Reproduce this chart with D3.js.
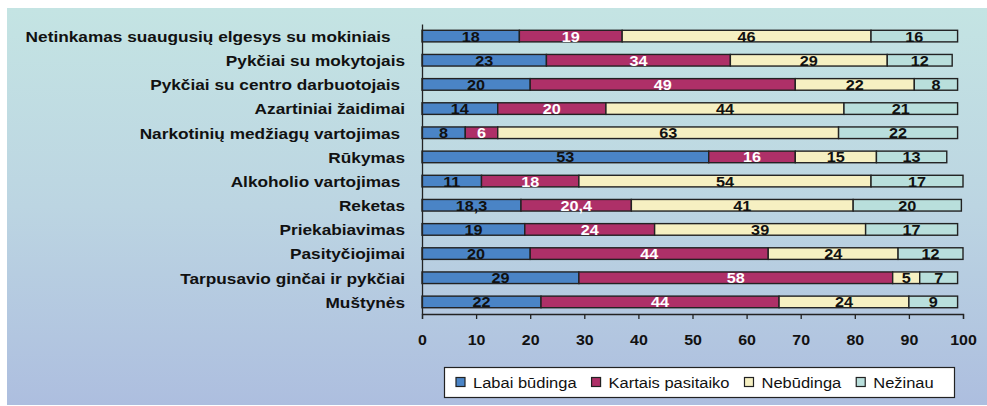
<!DOCTYPE html>
<html>
<head>
<meta charset="utf-8">
<script src="https://cdn.jsdelivr.net/npm/d3@7"></script>
<style>
  body { margin: 0; background: #fff; }
  svg { display: block; font-family: "Liberation Sans", Arial, sans-serif; }
  text { white-space: pre; }
</style>
</head>
<body>
<svg id="chart" width="987" height="406"></svg>
<script>
// categories, top to bottom (trailing spaces kept as in the original)
const categories = [
  'Netinkamas suaugusių elgesys su mokiniais   ',
  'Pykčiai su mokytojais',
  'Pykčiai su centro darbuotojais ',
  'Azartiniai žaidimai',
  'Narkotinių medžiagų vartojimas ',
  'Rūkymas',
  'Alkoholio vartojimas ',
  'Reketas',
  'Priekabiavimas',
  'Pasityčiojimai',
  'Tarpusavio ginčai ir pykčiai',
  'Muštynės'
];
const seriesNames = ['Labai būdinga', 'Kartais pasitaiko', 'Nebūdinga', 'Nežinau'];
const labaiBudinga     = [18, 23, 20, 14, 8, 53, 11, 18.3, 19, 20, 29, 22];
const kartaisPasitaiko = [19, 34, 49, 20, 6, 16, 18, 20.4, 24, 44, 58, 44];
const nebudinga        = [46, 29, 22, 44, 63, 15, 54, 41, 39, 24, 5, 24];
const nezinau          = [16, 12, 8, 21, 22, 13, 17, 20, 17, 12, 7, 9];
const xTicks = [0, 10, 20, 30, 40, 50, 60, 70, 80, 90, 100];

const colors = ['#4a84c6', '#ae3068', '#f6f0c2', '#b9dfdc'];
const labelColors = ['#111', '#fff', '#111', '#111'];
const FONT = '"Liberation Sans", Arial, sans-serif';

const svg = d3.select('#chart');

// background panel with soft vertical gradient
const defs = svg.append('defs');
const bg = defs.append('linearGradient').attr('id', 'bg').attr('x1', 0).attr('x2', 0).attr('y1', 0).attr('y2', 1);
bg.append('stop').attr('offset', '0%').attr('stop-color', '#c4e4e3');
bg.append('stop').attr('offset', '50%').attr('stop-color', '#bcd5e2');
bg.append('stop').attr('offset', '100%').attr('stop-color', '#adbedf');
svg.append('rect').attr('x', 7).attr('y', 8).attr('width', 980).attr('height', 397).attr('fill', 'url(#bg)');

const plot = {left: 422, right: 963, top: 24, bottom: 314};

const x = d3.scaleLinear().domain([0, 100]).range([plot.left, plot.right]);
const y = d3.scaleBand().domain(categories).range([plot.top, plot.bottom]).paddingInner(0.52).paddingOuter(0.26);

// stack the four series
const rows = categories.map((c, i) => ({
  cat: c, v: [labaiBudinga[i], kartaisPasitaiko[i], nebudinga[i], nezinau[i]]
}));
const stack = d3.stack().keys([0, 1, 2, 3]).value((d, k) => d.v[k]);
const stacked = stack(rows);

const g = svg.append('g');

stacked.forEach((layer, k) => {
  const lg = g.append('g');
  lg.selectAll('rect')
    .data(layer)
    .enter()
    .append('rect')
    .attr('x', d => x(d[0]))
    .attr('y', d => y(d.data.cat))
    .attr('width', d => x(d[1]) - x(d[0]))
    .attr('height', y.bandwidth())
    .attr('fill', colors[k])
    .attr('stroke', '#222')
    .attr('stroke-width', 1.4);
  lg.selectAll('text')
    .data(layer)
    .enter()
    .append('text')
    .attr('transform', d => `translate(${x((d[0] + d[1]) / 2)},${y(d.data.cat) + y.bandwidth() / 2 + 5.5}) scale(1.12,1)`)
    .attr('text-anchor', 'middle')
    .attr('font-size', 14.5)
    .attr('font-weight', 'bold')
    .attr('fill', labelColors[k])
    .text(d => String(d.data.v[k]).replace('.', ','));
});

// x axis
const xAxis = d3.axisBottom(x).tickValues(xTicks).tickSize(5).tickPadding(16);
const xa = svg.append('g').attr('transform', `translate(0,${plot.bottom})`).call(xAxis);
xa.select('.domain').attr('stroke', '#222').attr('stroke-width', 1.3);
xa.selectAll('.tick line').attr('stroke', '#222').attr('stroke-width', 1.3);
xa.selectAll('.tick text').attr('font-size', 14.5).attr('font-weight', 'bold').attr('fill', '#111')
  .attr('font-family', FONT).attr('transform', 'scale(1.1,1)');

// y axis line + category labels
const yAxis = d3.axisLeft(y).tickSize(0).tickPadding(17);
const ya = svg.append('g').attr('transform', `translate(${plot.left},0)`).call(yAxis);
ya.select('.domain').attr('stroke', '#222').attr('stroke-width', 1.3);
ya.selectAll('.tick text').attr('font-size', 14.5).attr('font-weight', 'bold').attr('fill', '#111')
  .attr('font-family', FONT).attr('dy', '0.4em')
  .attr('x', -17 / 1.19).attr('transform', 'scale(1.19,1)');

// legend
const leg = svg.append('g');
leg.append('rect').attr('x', 444.5).attr('y', 367.5).attr('width', 510).attr('height', 30)
  .attr('fill', '#fff').attr('stroke', '#222').attr('stroke-width', 1.2);
let lx = 456;
seriesNames.forEach((name, k) => {
  leg.append('rect').attr('x', lx).attr('y', 377.5).attr('width', 9).attr('height', 9)
    .attr('fill', colors[k]).attr('stroke', '#222').attr('stroke-width', 1.2);
  const t = leg.append('text')
    .attr('transform', `translate(${lx + 17},388) scale(1.1,1)`)
    .attr('font-size', 15).attr('fill', '#111').text(name);
  lx += 17 + t.node().getComputedTextLength() * 1.1 + 15;
});
</script>
</body>
</html>
